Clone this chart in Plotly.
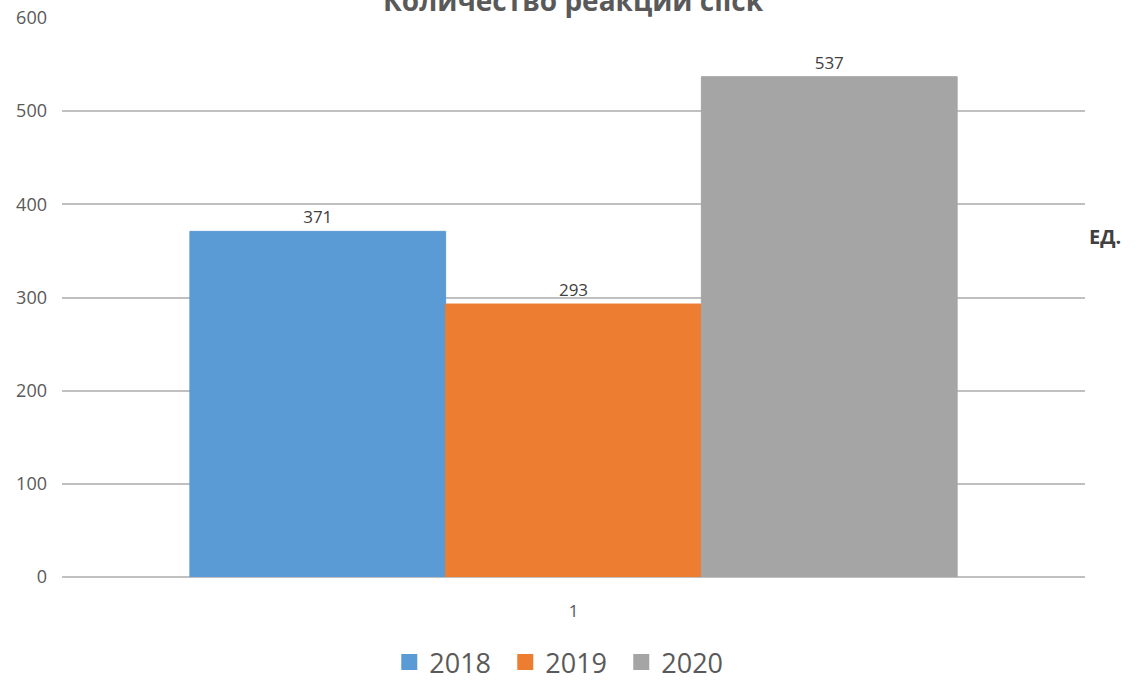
import plotly.graph_objects as go

categories = ["1"]
series_names = ["2018", "2019", "2020"]
series_values = [[371], [293], [537]]
colors = ["#5B9BD5", "#ED7D31", "#A5A5A5"]
title_text = "Количество реакций click"
unit_text = "ЕД."
y_ticks = [0, 100, 200, 300, 400, 500, 600]

FONT = "Open Sans, Liberation Sans, sans-serif"

fig = go.Figure()
for name, vals, col in zip(series_names, series_values, colors):
    fig.add_trace(go.Bar(
        x=categories, y=vals, name=name, showlegend=False,
        marker=dict(color=col, line=dict(color=col, width=1)),
        text=[str(v) for v in vals], textposition="outside",
        textfont=dict(size=17, color="#404040", family=FONT),
        cliponaxis=False,
    ))
# legend entries with larger square swatches
for name, col in zip(series_names, colors):
    fig.add_trace(go.Scatter(
        x=[None], y=[None], name=name, mode="markers",
        marker=dict(symbol="square", size=16, color=col),
        showlegend=True,
    ))

fig.update_layout(
    width=1140, height=681,
    margin=dict(l=62, r=55, t=18, b=104, autoexpand=False),
    paper_bgcolor="white", plot_bgcolor="white",
    barmode="group", bargap=0.25, bargroupgap=0.0,
    font=dict(family=FONT, color="#595959"),
    showlegend=True,
    legend=dict(orientation="h", x=0.49, xanchor="center", y=-0.153, yanchor="middle",
                font=dict(size=27, color="#595959", family=FONT), itemwidth=30,
                entrywidth=71, entrywidthmode="pixels",
                traceorder="normal"),
    xaxis=dict(type="category", showgrid=False, showline=False, ticks="",
               automargin=False, ticklabelstandoff=22,
               tickfont=dict(size=17, color="#595959")),
    yaxis=dict(range=[0, 600], tickvals=y_ticks, showgrid=True, gridcolor="#C0C0C0",
               gridwidth=2, zeroline=True, zerolinecolor="#C0C0C0", zerolinewidth=2,
               showline=False, ticks="", ticklabelstandoff=14, automargin=False,
               tickfont=dict(size=18, color="#595959")),
)

fig.add_annotation(text="<b>" + title_text + "</b>", xref="paper", yref="paper",
                   x=0.5, y=0.994, xanchor="center", yanchor="bottom", showarrow=False,
                   font=dict(size=28, color="#595959", family=FONT))
fig.add_annotation(text="<b>" + unit_text + "</b>", xref="paper", yref="paper",
                   x=1.002, y=(577 - 236) / 559, xanchor="left", yanchor="middle", showarrow=False,
                   font=dict(size=20, color="#404040", family=FONT))

fig.write_html("out.html", config={"displayModeBar": False},
               post_script="document.body.style.margin='0';")
